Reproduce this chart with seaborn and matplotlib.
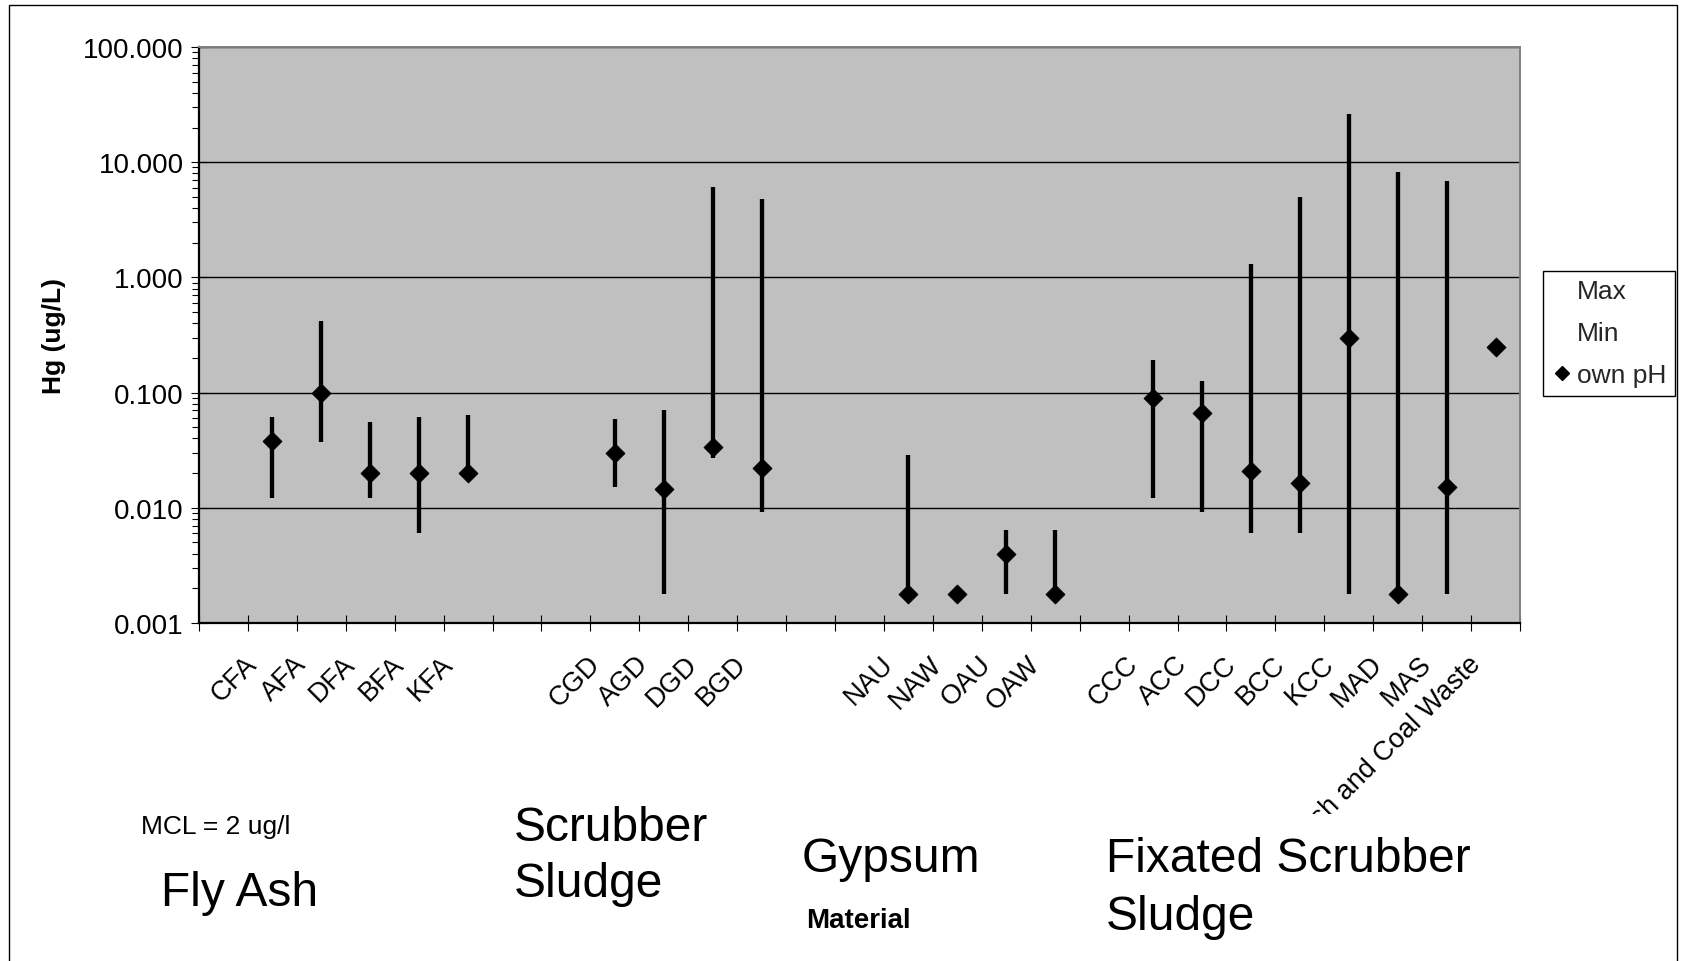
import numpy as np
import pandas as pd
import matplotlib
matplotlib.use("Agg")
import matplotlib.pyplot as plt
import seaborn as sns
from matplotlib.lines import Line2D
from matplotlib.patches import Rectangle
from matplotlib.transforms import ScaledTranslation, Bbox, TransformedBbox
from matplotlib.ticker import FuncFormatter, LogLocator, NullFormatter

nan = np.nan

# Leachate mercury results per material (ug/L); blank slots separate the groups
categories = ["", "CFA", "AFA", "DFA", "BFA", "KFA", "", "",
              "CGD", "AGD", "DGD", "BGD", "", "",
              "NAU", "NAW", "OAU", "OAW", "",
              "CCC", "ACC", "DCC", "BCC", "KCC", "MAD", "MAS",
              "Fly Ash and Coal Waste"]
hg_max = [nan, 0.061, 0.42, 0.056, 0.061, 0.064, nan, nan,
          0.059, 0.071, 6.1, 4.8, nan, nan,
          0.029, nan, 0.0064, 0.0064, nan,
          0.19, 0.126, 1.32, 5.0, 26.0, 8.2, 6.9, nan]
hg_min = [nan, 0.0122, 0.037, 0.0122, 0.0061, 0.020, nan, nan,
          0.0153, 0.0018, 0.027, 0.0092, nan, nan,
          0.0018, nan, 0.0018, 0.0018, nan,
          0.0122, 0.0092, 0.0061, 0.0061, 0.0018, 0.0018, 0.0018, nan]
hg_own_ph = [nan, 0.038, 0.100, 0.020, 0.020, 0.020, nan, nan,
             0.030, 0.0146, 0.034, 0.022, nan, nan,
             0.0018, 0.0018, 0.0040, 0.0018, nan,
             0.089, 0.067, 0.021, 0.0164, 0.30, 0.0018, 0.0151, 0.25]
y_ticks = [0.001, 0.01, 0.1, 1, 10, 100]
legend_labels = ["Max", "Min", "own pH"]

df = pd.DataFrame({"category": categories, "hg_max": hg_max,
                   "hg_min": hg_min, "own_ph": hg_own_ph})
df["pos"] = np.arange(len(df))

sns.set_style("ticks")
plt.rcParams["font.family"] = ["Liberation Sans", "DejaVu Sans"]

W, H = 1685, 962
fig = plt.figure(figsize=(W / 100, H / 100), dpi=100)
L, R, T, B = 199, 1520, 48, 624
ax = fig.add_axes([L / W, 1 - B / H, (R - L) / W, (B - T) / H])
ax.set_facecolor("#C0C0C0")

# high-low range lines
ranges = df.dropna(subset=["hg_max"])
ax.vlines(ranges["pos"], ranges["hg_min"], ranges["hg_max"],
          colors="black", linewidth=3.1, zorder=3)

# own-pH results
sns.scatterplot(data=df.dropna(subset=["own_ph"]), x="pos", y="own_ph",
                marker="D", s=95, color="black", edgecolor="black",
                linewidth=0.5, ax=ax, legend=False, zorder=4)

ax.set_yscale("log")
ax.set_ylim(y_ticks[0], y_ticks[-1])
ax.set_xlim(-0.5, len(categories) - 0.5)

# y axis
ax.set_yticks(y_ticks)
ax.yaxis.set_major_formatter(FuncFormatter(lambda v, p: f"{v:.3f}"))
ax.yaxis.set_minor_locator(LogLocator(base=10, subs=range(2, 10)))
ax.yaxis.set_minor_formatter(NullFormatter())
ax.set_axisbelow(True)
ax.yaxis.grid(True, which="major", color="black", linewidth=1.0)
ax.xaxis.grid(False)

# x axis: labels at category centres, tick marks on category borders
label_pos = [i for i, c in enumerate(categories) if c]
ax.set_xticks(label_pos)
ax.set_xticklabels([categories[i] for i in label_pos], rotation=45,
                   ha="right", va="baseline", rotation_mode="anchor")
ax.set_xticks(np.arange(-0.5, len(categories)), minor=True)
ax.xaxis.set_minor_formatter(NullFormatter())

ax.tick_params(axis="x", which="major", bottom=True, length=0, pad=30,
               labelsize=19.5, labelcolor="black")
ax.tick_params(axis="x", which="minor", bottom=True, direction="inout",
               length=12, width=0.8, color="black")
ax.tick_params(axis="y", which="major", left=True, direction="inout",
               length=12, width=0.8, color="black", pad=5,
               labelsize=20, labelcolor="black")
ax.tick_params(axis="y", which="minor", left=True, direction="out",
               length=5, width=0.8, color="black")

offset = ScaledTranslation(-14 / 100, 0, fig.dpi_scale_trans)
xlabels = ax.get_xticklabels()
for lab in xlabels:
    lab.set_transform(lab.get_transform() + offset)
# the long last label is cut off by the lower edge of the chart area
clip = TransformedBbox(Bbox([[0, (H - 815) / H], [1, 1]]), fig.transFigure)
xlabels[-1].set_clip_on(True)
xlabels[-1].set_clip_box(clip)

for side in ("left", "bottom"):
    ax.spines[side].set_color("black")
    ax.spines[side].set_linewidth(1.6)
for side in ("top", "right"):
    ax.spines[side].set_color("#808080")
    ax.spines[side].set_linewidth(1.4)

ax.set_xlabel("")
ax.set_ylabel("Hg (ug/L)", fontsize=19, fontweight="bold", va="center",
              color="black")
ax.yaxis.set_label_coords((54 - L) / (R - L), 0.5)

# legend
handles = [Line2D([], [], linestyle="none", marker=""),
           Line2D([], [], linestyle="none", marker=""),
           Line2D([], [], linestyle="none", marker="D", color="black",
                  markersize=7.2)]
leg = ax.legend(handles=handles, labels=legend_labels, loc="upper left",
                bbox_to_anchor=(1543 / W, 1 - 272 / H),
                bbox_transform=fig.transFigure, borderaxespad=0,
                frameon=True, fancybox=False, edgecolor="black",
                facecolor="white", framealpha=1, fontsize=19,
                borderpad=0.32, labelspacing=0.68, handlelength=0.81,
                handletextpad=0.15)
leg.get_frame().set_linewidth(1.0)

# group captions under the axis
def caption(x, y, s, size, weight="normal"):
    fig.text(x / W, 1 - y / H, s, fontsize=size, fontweight=weight,
             ha="left", va="baseline", color="black")

caption(141, 834, "MCL = 2 ug/l", 19)
caption(161, 906, "Fly Ash", 34.5)
caption(514, 841, "Scrubber", 34.5)
caption(514, 897, "Sludge", 34.5)
caption(802, 872, "Gypsum", 34.5)
caption(806, 928, "Material", 20, "bold")
caption(1106, 872, "Fixated Scrubber", 34.5)
caption(1106, 930, "Sludge", 34.5)

# outer chart border
fig.add_artist(Rectangle((8.5 / W, -0.05), (1676.5 - 8.5) / W,
                         1.05 - 5.5 / H, transform=fig.transFigure,
                         fill=False, edgecolor="black", linewidth=1.0))

fig.savefig("out.png", dpi=100)
